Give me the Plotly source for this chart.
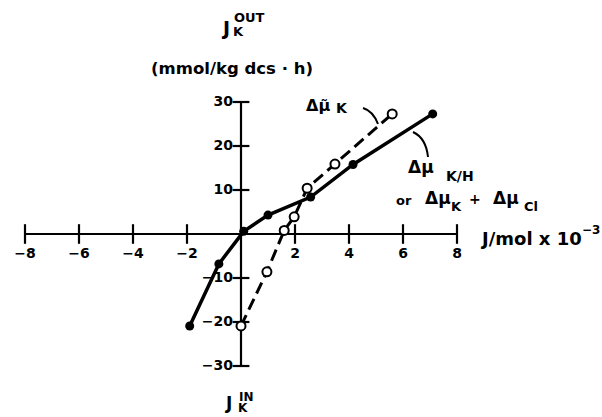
import plotly.graph_objects as go

# ---- data ----
# Δμ K/H (or Δμ K + Δμ Cl), filled circles, solid line
kh_x = [-1.9, -0.82, 0.1, 1.0, 2.58, 4.15, 7.1]
kh_y = [-20.9, -6.8, 0.6, 4.3, 8.4, 15.8, 27.3]
# Δμ̃ K (electrochemical), open circles, dashed line
ek_x = [0.0, 0.96, 1.6, 1.97, 2.45, 3.48, 5.6]
ek_y = [-20.9, -8.6, 0.8, 3.9, 10.4, 15.9, 27.3]

x_ticks = [-8, -6, -4, -2, 2, 4, 6, 8]
x_tick_labels = ["−8", "−6", "−4", "−2", "2", "4", "6", "8"]
y_ticks = [-30, -20, -10, 10, 20, 30]
y_tick_labels = ["−30", "−20", "−10", "10", "20", "30"]
x_axis_span = [-8, 8]
y_axis_span = [-30, 30]

W, H = 602, 417
FONT = "DejaVu Sans"

# pixel mapping (origin at pixel 241,234; 27 px per unit x, 4.4 px per unit y)
X0, Y0, SX, SY = 241.0, 234.0, 27.0, 4.4
xr = [(0 - X0) / SX, (W - X0) / SX]
yr = [(Y0 - H) / SY, (Y0 - 0) / SY]


def P(px, py):
    return px / W, 1 - py / H


fig = go.Figure()

# axes drawn as traces in data space
fig.add_trace(go.Scatter(x=x_axis_span, y=[0, 0], mode="lines",
                         line=dict(color="black", width=2.2), hoverinfo="skip"))
fig.add_trace(go.Scatter(x=[0, 0], y=y_axis_span, mode="lines",
                         line=dict(color="black", width=2.2), hoverinfo="skip"))
fig.add_trace(go.Scatter(x=x_ticks, y=[0] * len(x_ticks), mode="markers",
                         marker=dict(symbol="line-ns", size=14, line=dict(color="black", width=2.2)),
                         hoverinfo="skip"))
fig.add_trace(go.Scatter(x=[0] * len(y_ticks), y=y_ticks, mode="markers",
                         marker=dict(symbol="line-ew", size=12, line=dict(color="black", width=2.2)),
                         hoverinfo="skip"))
fig.add_trace(go.Scatter(x=x_ticks, y=[-3.0] * len(x_ticks), mode="text", text=x_tick_labels,
                         textposition="bottom center",
                         textfont=dict(family=FONT, size=14, color="black", weight="bold"),
                         hoverinfo="skip"))
fig.add_trace(go.Scatter(x=[-0.3] * len(y_ticks), y=y_ticks, mode="text", text=y_tick_labels,
                         textposition="middle left",
                         textfont=dict(family=FONT, size=14, color="black", weight="bold"),
                         hoverinfo="skip"))

# data lines
fig.add_trace(go.Scatter(x=ek_x, y=ek_y, mode="lines",
                         line=dict(color="black", width=3, dash="12px,6px"), hoverinfo="skip"))
fig.add_trace(go.Scatter(x=kh_x, y=kh_y, mode="lines",
                         line=dict(color="black", width=3.5), hoverinfo="skip"))
fig.add_trace(go.Scatter(x=kh_x, y=kh_y, mode="markers",
                         marker=dict(symbol="circle", size=9, color="black")))
fig.add_trace(go.Scatter(x=ek_x, y=ek_y, mode="markers",
                         marker=dict(symbol="circle", size=9, color="white",
                                     line=dict(color="black", width=2))))

anns = []


def ann(text, px, py, size, xanchor="center", bold=True):
    x, y = P(px, py)
    anns.append(dict(text=text, x=x, y=y, xref="paper", yref="paper", showarrow=False,
                     xanchor=xanchor, yanchor="middle",
                     font=dict(family=FONT, size=size, color="black",
                               weight="bold" if bold else "normal")))


# y-axis title
ann("J", 225, 28, 19)
ann("OUT", 249, 18, 13)
ann("K", 238, 32, 13)
ann("(mmol/kg dcs · h)", 232, 69, 16.5)
# bottom label
ann("J", 228, 403, 17)
ann("IN", 246, 397, 12)
ann("K", 243, 408, 12)
# x-axis title
ann("J/mol x 10", 478, 238, 18, xanchor="left")
ann("−3", 591, 230, 12)
# series labels
ann("Δμ\u0303", 318, 106, 16)
ann("K", 342, 108, 14)
ann("Δμ", 421, 167, 17)
ann("K/H", 460, 176, 14)
ann("or", 404, 200, 13)
ann("Δμ", 438, 198, 17)
ann("K", 456, 206, 13)
ann("+", 475, 199, 14)
ann("Δμ", 506, 198, 17)
ann("Cl", 531, 206, 13)


def path(points):
    (x0, y0), (cx, cy), (x1, y1) = [P(a, b) for a, b in points]
    return f"M {x0},{y0} Q {cx},{cy} {x1},{y1}"


shapes = [
    dict(type="path", xref="paper", yref="paper",
         path=path([(363, 108), (373, 111), (378, 124)]), line=dict(color="black", width=2)),
    dict(type="path", xref="paper", yref="paper",
         path=path([(413, 132), (426, 138), (428, 157)]), line=dict(color="black", width=2)),
]

fig.update_layout(
    width=W, height=H, margin=dict(l=0, r=0, t=0, b=0),
    paper_bgcolor="white", plot_bgcolor="white", showlegend=False,
    xaxis=dict(range=xr, visible=False, fixedrange=True),
    yaxis=dict(range=yr, visible=False, fixedrange=True),
    annotations=anns, shapes=shapes,
)

fig.write_html(
    "out.html",
    config={"displayModeBar": False},
    post_script="document.body.style.margin='0';document.body.style.overflow='hidden';",
)
